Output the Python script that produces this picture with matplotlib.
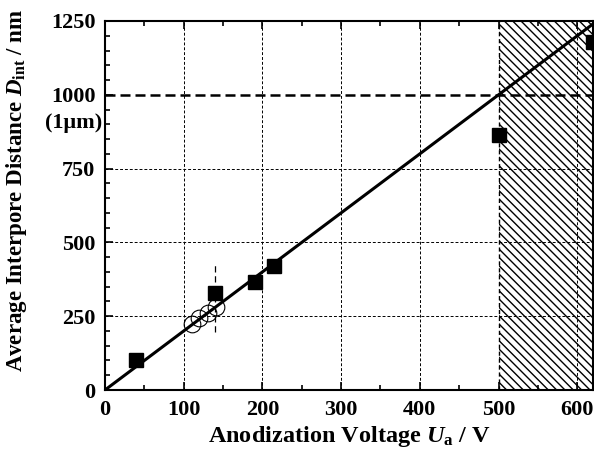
import matplotlib
matplotlib.use("Agg")
import matplotlib.pyplot as plt
from matplotlib.ticker import MultipleLocator

plt.rcParams['font.family'] = ['Liberation Serif', 'DejaVu Serif']
plt.rcParams['font.weight'] = 'bold'
plt.rcParams['mathtext.fontset'] = 'custom'
plt.rcParams['mathtext.rm'] = 'Liberation Serif:bold'
plt.rcParams['mathtext.it'] = 'Liberation Serif:italic:bold'
plt.rcParams['mathtext.bf'] = 'Liberation Serif:bold'

# data
sq_volt = [40, 140, 190, 215, 500, 620]
sq_dist = [100, 330, 365, 420, 865, 1180]
circ_volt = [110, 120, 131, 141]
circ_dist = [225, 243, 262, 280]
fit_volt = [0, 620]
fit_dist = [0, 1240]
err_volt = [140, 140]
err_dist = [195, 425]
hatch_span = [500, 620]

fig = plt.figure(figsize=(5.94, 4.59), dpi=100)
ax = fig.add_axes([105/594, 1-390/459, 488/594, 369/459])

ax.set_xlim(0, 620)
ax.set_ylim(0, 1250)

# hatched region
ax.axvspan(hatch_span[0], hatch_span[1], facecolor='none', edgecolor='black',
           hatch='\\\\\\\\', linewidth=0, zorder=1)
ax.axvline(500, color='black', lw=1.0, ls=(0, (3, 2)), zorder=2)

# grid
for v in [100, 200, 300, 400, 600]:
    ax.axvline(v, color='black', lw=0.7, ls=(0, (3, 2)), zorder=1)
for d in [250, 500, 750]:
    ax.axhline(d, color='black', lw=0.7, ls=(0, (3, 2)), zorder=1)
ax.axhline(1000, color='black', lw=1.8, ls=(0, (4, 2)), zorder=2)

ax.plot(err_volt, err_dist, color='black', lw=0.9, ls=(0, (5, 3)), zorder=3)
ax.plot(fit_volt, fit_dist, color='black', lw=2.2, zorder=4)
ax.plot(sq_volt, sq_dist, 's', color='black', ms=10, zorder=5, clip_on=False)
ax.plot(circ_volt, circ_dist, 'o', mfc='none', mec='black', mew=0.8, ms=12,
        zorder=5)

ax.xaxis.set_major_locator(MultipleLocator(100))
ax.xaxis.set_minor_locator(MultipleLocator(50))
ax.yaxis.set_major_locator(MultipleLocator(250))
ax.yaxis.set_minor_locator(MultipleLocator(50))
ax.tick_params(which='both', direction='in', top=True, right=False,
               labelsize=16, width=1.2)
ax.tick_params(which='major', length=6, pad=7)
ax.tick_params(which='minor', length=3.5)
for s in ax.spines.values():
    s.set_linewidth(1.5)

ax.text(-0.006, 904, '(1μm)', transform=ax.get_yaxis_transform(),
        ha='right', va='center', fontsize=16, fontweight='bold')

ax.set_xlabel(r'Anodization Voltage $\mathit{U}_{\mathrm{a}}$ / V', fontsize=17.5,
              fontweight='bold', labelpad=3)
ax.set_ylabel(r'Average Interpore Distance $\mathit{D}_{\mathrm{int}}$ / nm',
              fontsize=16.5, fontweight='bold')
ax.yaxis.set_label_coords(-0.155, 0.54)

fig.savefig('out.png', dpi=100)
